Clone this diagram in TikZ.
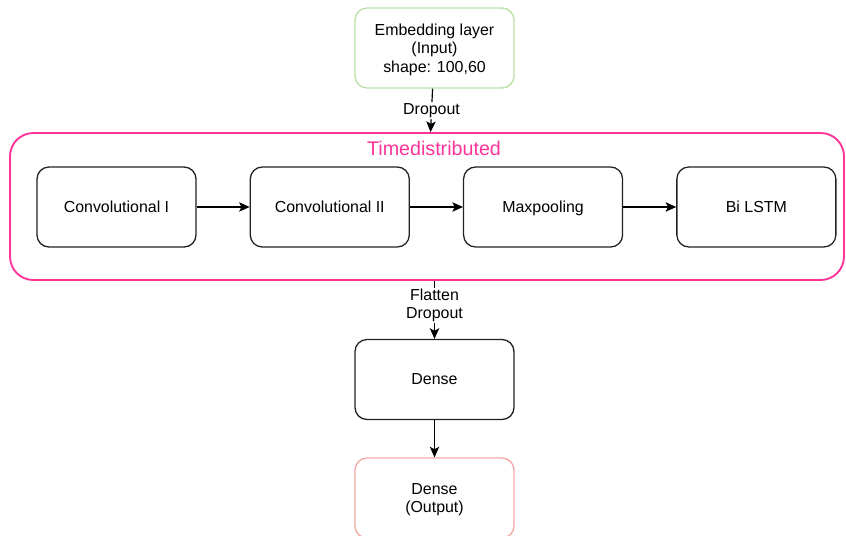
\documentclass[tikz,border=0pt]{standalone}
\usepackage{fontspec}
\setmainfont{Liberation Sans}
\usepackage{tikz}
\usetikzlibrary{arrows.meta,positioning}
\definecolor{tdpink}{HTML}{FF3399}
\definecolor{ingreen}{HTML}{B9E0A5}
\definecolor{outred}{HTML}{F4A7A3}
\definecolor{boxgray}{HTML}{222222}

\begin{document}
\begin{tikzpicture}[
    layer/.style={draw=boxgray,line width=1.1pt,rounded corners=0.36cm,
      minimum width=4.77cm,minimum height=2.4cm,align=center,
      font=\fontsize{13.6}{16}\selectfont,text depth=0pt},
    flow/.style={-{Stealth[length=9pt,width=8pt,inset=2pt]},line width=1pt},
    lbl/.style={fill=white,inner sep=1pt,align=center,
      font=\fontsize{13.6}{15.5}\selectfont}
  ]
  \useasboundingbox (0,0) rectangle (25.38,-16.05);

  % Input
  \node[layer,draw=ingreen] (emb) at (13.035,-1.44)
    {Embedding layer\\(Input)\\shape: 100,60};

  % Timedistributed wrapper
  \node[draw=tdpink,line width=1.6pt,rounded corners=0.7cm,
    minimum width=25.02cm,minimum height=4.41cm] (td) at (12.81,-6.195) {};
  \node[text=tdpink,font=\fontsize{16.8}{20}\selectfont] (tdlbl) at (13.02,-4.44)
    {Timedistributed};

  % Layers inside
  \node[layer] (conv1) at (3.495,-6.21) {Convolutional I};
  \node[layer,right=1.59cm of conv1] (conv2) {Convolutional II};
  \node[layer,right=1.59cm of conv2] (pool) {Maxpooling};
  \node[layer,right=1.59cm of pool] (lstm) {Bi LSTM};

  % Output side
  \node[layer] (dense) at (13.035,-11.385) {Dense};
  \node[layer,draw=outred] (out) at (13.035,-14.94) {Dense\\(Output)};

  % Connections
  \draw[flow] (emb) -- (td) node[lbl,midway] {Dropout};
  \draw[flow] (conv1) -- (conv2);
  \draw[flow] (conv2) -- (pool);
  \draw[flow] (pool) -- (lstm);
  \draw[flow] (emb.south |- td.south) -- (dense)
    node[lbl,pos=0.42] {Flatten\\Dropout};
  \draw[flow] (dense) -- (out);
\end{tikzpicture}
\end{document}
